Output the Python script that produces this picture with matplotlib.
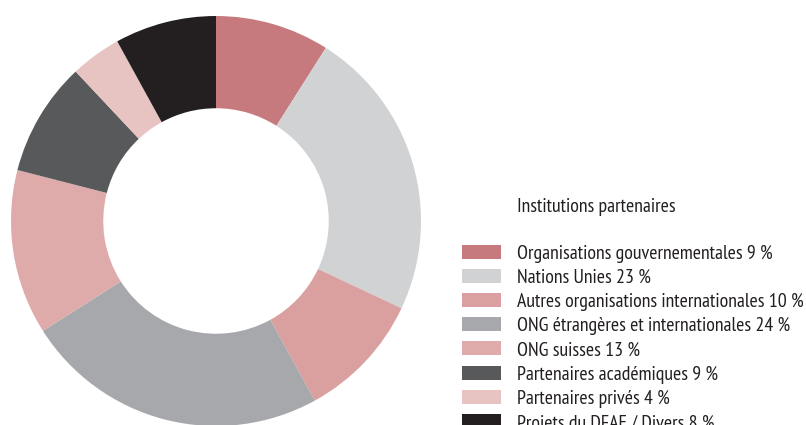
import matplotlib.pyplot as plt
from matplotlib.patches import Rectangle

# Données
categories = ["Organisations gouvernementales", "Nations Unies",
              "Autres organisations internationales",
              "ONG étrangères et internationales", "ONG suisses",
              "Partenaires académiques", "Partenaires privés",
              "Projets du DFAE / Divers"]
valeurs = [9, 23, 10, 24, 13, 9, 4, 8]
couleurs = ["#C77A7E", "#D1D2D4", "#D9A09F", "#A7A8AC",
            "#DFABAA", "#58595B", "#E7C3C1", "#231F20"]

W, H = 806, 425
plt.rcParams['font.family'] = ['PT Sans Narrow', 'Roboto Condensed', 'DejaVu Sans']

fig = plt.figure(figsize=(W / 100, H / 100), dpi=100)

# anneau: centre (216, 221) px, rayon 205 px
cx, cy, r = 216, 221, 205
ax = fig.add_axes([(cx - r) / W, (H - cy - r) / H, 2 * r / W, 2 * r / H])
ax.pie(valeurs, colors=couleurs, startangle=90, counterclock=False,
       radius=1, wedgeprops=dict(width=0.45, linewidth=0))
ax.set_xlim(-1, 1)
ax.set_ylim(-1, 1)
ax.set_aspect("equal")
ax.axis("off")

# légende (positions en pixels depuis le coin haut-gauche)
def fx(x):
    return x / W

def fy(y):
    return (H - y) / H

fig.text(fx(517), fy(211.7), "Institutions partenaires", fontsize=14.3,
         va="baseline", ha="left", color="#231F20")

y0, pas = 245, 24.1
for i, (cat, val, col) in enumerate(zip(categories, valeurs, couleurs)):
    haut = y0 + i * pas
    fig.patches.append(Rectangle((fx(462), fy(haut + 14)), 38.5 / W, 14 / H,
                                 transform=fig.transFigure, color=col,
                                 linewidth=0))
    fig.text(fx(517), fy(haut + 14), f"{cat} {val} %", fontsize=14.3,
             va="baseline", ha="left", color="#231F20")

fig.savefig("out.png", dpi=100)
